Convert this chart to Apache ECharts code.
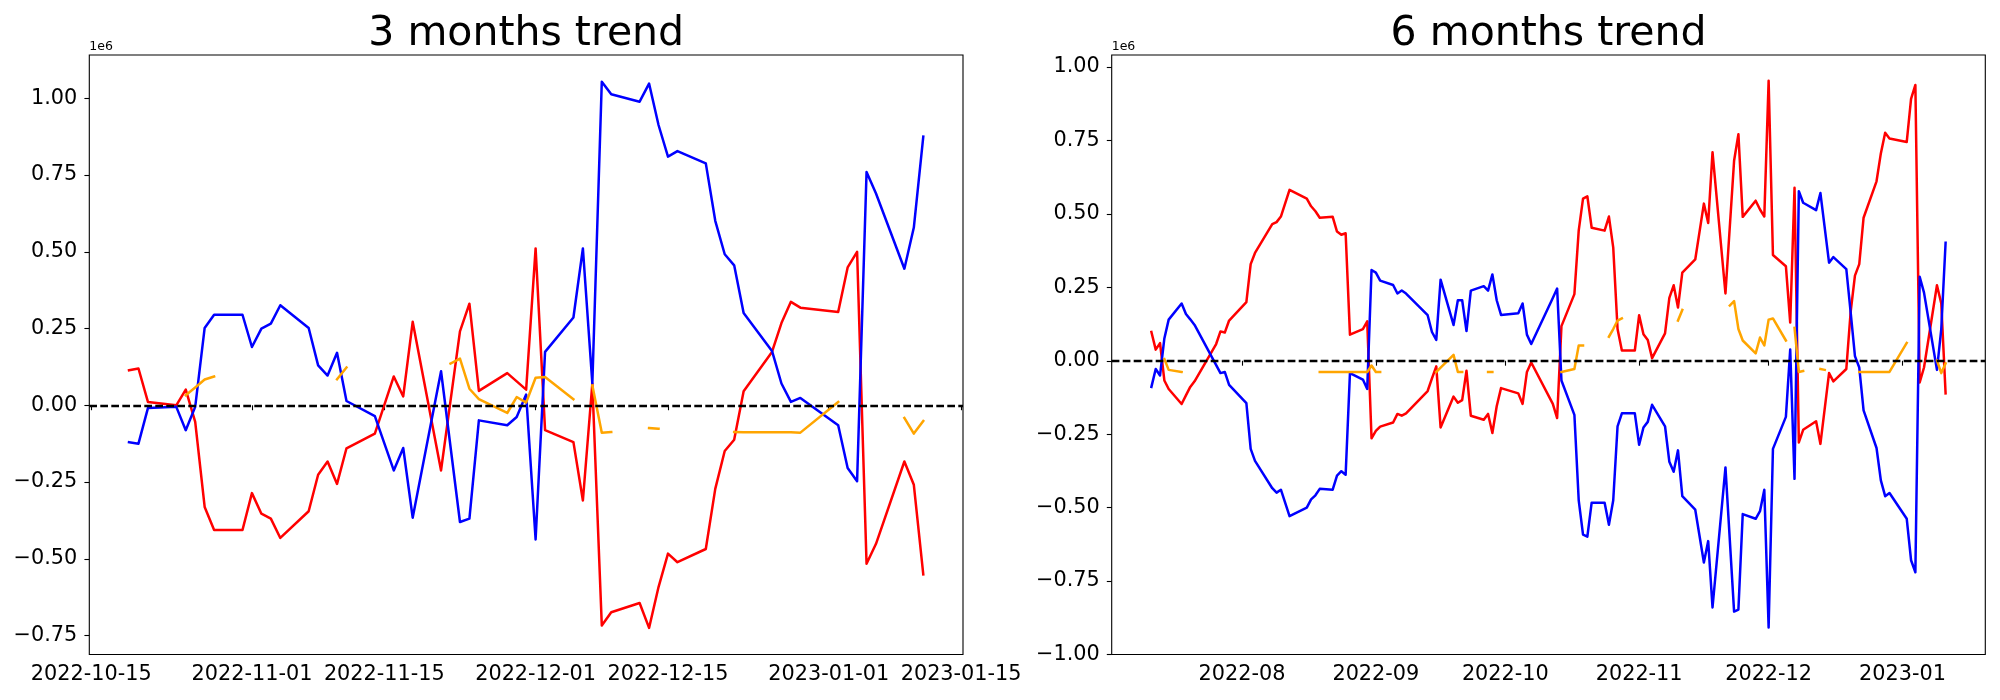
<!DOCTYPE html>
<html><head><meta charset="utf-8">
<script src="https://cdn.jsdelivr.net/npm/echarts@6/dist/echarts.min.js"></script>
<style>html,body{margin:0;padding:0;background:#fff}#c{width:2000px;height:700px}</style>
</head><body><div id="c"></div>
<script>
// ---------- 3 months trend (values in units of 1e6) ----------
const dates3 = ['2022-10-19','2022-10-20','2022-10-21','2022-10-24','2022-10-25','2022-10-26','2022-10-27','2022-10-28','2022-10-31','2022-11-01',
'2022-11-02','2022-11-03','2022-11-04','2022-11-07','2022-11-08','2022-11-09','2022-11-10','2022-11-11','2022-11-14','2022-11-16',
'2022-11-17','2022-11-18','2022-11-21','2022-11-22','2022-11-23','2022-11-24','2022-11-25','2022-11-28','2022-11-29','2022-11-30',
'2022-12-01','2022-12-02','2022-12-05','2022-12-06','2022-12-07','2022-12-08','2022-12-09','2022-12-12','2022-12-13','2022-12-14',
'2022-12-15','2022-12-16','2022-12-19','2022-12-20','2022-12-21','2022-12-22','2022-12-23','2022-12-26','2022-12-27','2022-12-28',
'2022-12-29','2023-01-02','2023-01-03','2023-01-04','2023-01-05','2023-01-06','2023-01-09','2023-01-10','2023-01-11'];
const red3 = [0.114,0.120,0.011,0.000,0.051,-0.054,-0.331,-0.406,-0.406,-0.286,
-0.353,-0.369,-0.432,-0.345,-0.226,-0.183,-0.256,-0.140,-0.092,0.094,
0.029,0.272,-0.212,null,0.241,0.331,0.047,0.105,null,0.051,
0.511,-0.081,-0.120,-0.310,0.071,-0.717,-0.674,-0.644,-0.725,-0.592,
-0.483,-0.511,-0.468,-0.272,-0.149,-0.112,0.046,0.174,0.268,0.337,
0.318,0.304,0.449,0.500,-0.516,-0.451,-0.183,-0.259,-0.551];
const blue3 = [-0.120,-0.125,-0.009,-0.005,-0.081,-0.005,0.252,0.295,0.295,0.190,
0.250,0.266,0.326,0.252,0.130,0.097,0.171,0.014,-0.035,-0.212,
-0.139,-0.366,0.111,null,-0.380,-0.369,-0.049,-0.065,-0.038,0.035,
-0.437,0.174,0.286,0.511,0.071,1.054,1.013,0.989,1.048,0.913,
0.810,0.828,0.788,0.601,0.492,0.456,0.301,0.177,0.071,0.011,
0.024,-0.065,-0.204,-0.247,0.760,0.690,0.445,0.579,0.875];
const orange3 = [null,null,null,null,0.033,0.058,0.084,0.094,null,null,
null,null,null,null,null,null,0.085,0.123,null,null,
null,null,null,0.136,0.152,0.054,0.020,-0.025,0.027,0.009,
0.090,0.092,0.020,null,0.065,-0.089,-0.087,null,-0.074,-0.076,
null,null,null,null,null,-0.087,-0.088,-0.088,-0.088,-0.088,
-0.089,0.011,null,null,null,null,-0.041,-0.092,-0.051];
const xTicks3 = ['2022-10-15','2022-11-01','2022-11-15','2022-12-01','2022-12-15','2023-01-01','2023-01-15'];
const yTicks3 = [-0.75,-0.5,-0.25,0,0.25,0.5,0.75,1.0];

// ---------- 6 months trend (values in units of 1e6) ----------
const dates6 = ['2022-07-11','2022-07-12','2022-07-13','2022-07-14','2022-07-15','2022-07-18','2022-07-19','2022-07-20','2022-07-21','2022-07-26',
'2022-07-27','2022-07-28','2022-07-29','2022-08-02','2022-08-03','2022-08-04','2022-08-08','2022-08-09','2022-08-10','2022-08-12',
'2022-08-16','2022-08-17','2022-08-18','2022-08-19','2022-08-22','2022-08-23','2022-08-24','2022-08-25','2022-08-26','2022-08-29',
'2022-08-30','2022-08-31','2022-09-01','2022-09-02','2022-09-05','2022-09-06','2022-09-07','2022-09-08','2022-09-13','2022-09-14',
'2022-09-15','2022-09-16','2022-09-19','2022-09-20','2022-09-21','2022-09-22','2022-09-23','2022-09-26','2022-09-27','2022-09-28',
'2022-09-29','2022-09-30','2022-10-04','2022-10-05','2022-10-06','2022-10-07','2022-10-12','2022-10-13','2022-10-14','2022-10-17',
'2022-10-18','2022-10-19','2022-10-20','2022-10-21','2022-10-24','2022-10-25','2022-10-26','2022-10-27','2022-10-28','2022-10-31',
'2022-11-01','2022-11-02','2022-11-03','2022-11-04','2022-11-07','2022-11-08','2022-11-09','2022-11-10','2022-11-11','2022-11-14',
'2022-11-16','2022-11-17','2022-11-18','2022-11-21','2022-11-22','2022-11-23','2022-11-24','2022-11-25','2022-11-28','2022-11-29',
'2022-11-30','2022-12-01','2022-12-02','2022-12-05','2022-12-06','2022-12-07','2022-12-08','2022-12-09','2022-12-12','2022-12-13',
'2022-12-14','2022-12-15','2022-12-16','2022-12-19','2022-12-20','2022-12-21','2022-12-22','2022-12-23','2022-12-26','2022-12-27',
'2022-12-28','2022-12-29','2023-01-02','2023-01-03','2023-01-04','2023-01-05','2023-01-06','2023-01-09','2023-01-10','2023-01-11'];
const red6 = [0.098,0.038,0.060,-0.067,-0.096,-0.147,-0.118,-0.089,-0.070,0.057,
0.100,0.096,0.137,0.200,0.329,0.367,0.465,0.472,0.491,0.582,
0.552,0.526,0.509,0.487,0.490,0.440,0.429,0.434,0.089,0.108,
0.134,-0.264,-0.239,-0.224,-0.210,-0.181,-0.187,-0.179,-0.103,-0.060,
-0.019,-0.227,-0.122,-0.143,-0.134,-0.034,-0.187,-0.201,-0.181,-0.246,
-0.155,-0.093,-0.111,-0.147,-0.038,-0.006,-0.147,-0.195,0.118,0.227,
0.443,0.552,0.560,0.453,0.443,0.491,0.385,0.108,0.035,0.035,
0.155,0.090,0.071,0.009,0.093,0.214,0.257,0.181,0.300,0.345,
0.535,0.469,0.710,0.229,null,0.681,0.771,0.490,0.545,0.515,
0.491,0.953,0.360,0.322,0.130,0.589,-0.278,-0.235,-0.206,-0.283,
null,-0.042,-0.070,-0.028,0.166,0.290,0.329,0.487,0.611,0.706,
0.776,0.757,0.745,0.892,0.939,-0.074,-0.023,0.257,0.195,-0.111];
const blue6 = [-0.089,-0.028,-0.050,0.076,0.140,0.195,0.159,0.141,0.122,null,
-0.042,-0.038,-0.082,-0.144,-0.300,-0.341,-0.434,-0.449,-0.439,-0.529,
-0.500,-0.472,-0.458,-0.436,-0.439,-0.391,-0.376,-0.388,-0.042,-0.064,
-0.096,0.309,0.300,0.273,0.258,0.229,0.239,0.229,0.155,0.098,
0.071,0.276,0.122,0.206,0.206,0.101,0.239,0.254,0.239,0.294,
0.206,0.156,0.162,0.195,0.089,0.057,0.214,0.246,-0.067,-0.184,
-0.475,-0.592,-0.599,-0.483,-0.483,-0.558,-0.475,-0.223,-0.179,-0.179,
-0.286,-0.227,-0.208,-0.150,-0.223,-0.344,-0.378,-0.305,-0.461,-0.507,
-0.687,-0.614,-0.840,-0.363,null,-0.854,-0.847,-0.522,-0.538,-0.512,
-0.439,-0.908,-0.300,-0.191,0.038,-0.402,0.577,0.538,0.513,0.571,
null,0.334,0.353,0.312,0.166,0.016,-0.023,-0.169,-0.297,-0.407,
-0.461,-0.450,-0.538,-0.679,-0.720,0.286,0.232,-0.031,0.108,0.402];
const orange6 = [null,null,null,0.006,-0.031,-0.038,null,null,null,null,
null,null,null,null,null,null,null,null,null,null,
null,null,null,-0.038,-0.038,-0.038,-0.038,-0.038,-0.038,-0.038,
-0.038,-0.016,-0.038,-0.038,null,null,null,null,null,null,
-0.038,-0.023,0.020,-0.038,-0.038,null,null,null,-0.038,-0.038,
null,null,null,null,null,null,null,null,-0.038,-0.028,
0.052,0.052,null,null,null,0.082,0.108,0.137,0.144,null,
null,null,null,null,null,null,null,0.137,0.173,null,
null,null,null,null,0.188,0.203,0.108,0.069,0.025,0.079,
0.052,0.140,0.144,0.069,null,0.112,-0.038,-0.035,null,-0.028,
-0.031,null,null,null,null,null,-0.038,-0.038,-0.038,-0.038,
-0.038,-0.038,0.061,null,null,null,null,0.001,-0.042,-0.009];
const xTicks6 = ['2022-08-01','2022-09-01','2022-10-01','2022-11-01','2022-12-01','2023-01-01'];
const yTicks6 = [-1.0,-0.75,-0.5,-0.25,0,0.25,0.5,0.75,1.0];

// ---------- helpers ----------
const DAY = 86400000;
function ts(s){const p=s.split('-').map(Number);return Date.UTC(p[0],p[1]-1,p[2]);}
function pairs(d,v){return d.map((s,i)=>[ts(s), v[i]]);}
function pad(n){return (n<10?'0':'')+n;}
function fmtDay(v){const d=new Date(v);return d.getUTCFullYear()+'-'+pad(d.getUTCMonth()+1)+'-'+pad(d.getUTCDate());}
function fmtMonth(v){const d=new Date(v);return d.getUTCFullYear()+'-'+pad(d.getUTCMonth()+1);}
function fmtY(v){const r=Math.round(v*100)/100; return (r<0?'\u2212':'')+Math.abs(r).toFixed(2);}

const FONT = 'DejaVu Sans';
const LW = 2.5;
const x3min = ts(dates3[0]) - 4.2*DAY, x3max = ts(dates3[dates3.length-1]) + 4.2*DAY;
const x6min = ts(dates6[0]) - 9.2*DAY, x6max = ts(dates6[dates6.length-1]) + 9.2*DAY;

function xAxis(gi,min,max,ticks,fmt){
  const tv = ticks.map(ts);
  return {type:'value', gridIndex:gi, min:min, max:max, scale:true,
    axisLine:{show:false},
    axisTick:{show:true, length:4.9, customValues:tv, lineStyle:{color:'#000', width:1.1}},
    axisLabel:{show:true, customValues:tv, formatter:fmt, fontSize:20.8, fontFamily:FONT, color:'#000', margin:9.5},
    splitLine:{show:false}};
}
function yAxis(gi,min,max,ticks){
  return {type:'value', gridIndex:gi, min:min, max:max,
    axisLine:{show:false},
    axisTick:{show:true, length:4.9, customValues:ticks, lineStyle:{color:'#000', width:1.1}},
    axisLabel:{show:true, customValues:ticks, formatter:fmtY, fontSize:20.8, fontFamily:FONT, color:'#000', margin:12},
    splitLine:{show:false}};
}
function lineSeries(gi,data,color,connect){
  return {type:'line', xAxisIndex:gi, yAxisIndex:gi, data:data, showSymbol:false, symbol:'none',
    connectNulls:connect, lineStyle:{color:color, width:LW, cap:'square', join:'round'}, itemStyle:{color:color},
    emphasis:{disabled:true}, animation:false};
}
function zeroLine(gi){
  return {type:'line', xAxisIndex:gi, yAxisIndex:gi, data:[], animation:false,
    markLine:{silent:true, symbol:['none','none'], label:{show:false}, animation:false,
      lineStyle:{color:'#000', width:2.3, type:[7.7,3.3]}, emphasis:{disabled:true},
      data:[{yAxis:0}]}};
}

const chart = echarts.init(document.getElementById('c'), null, {renderer:'canvas'});
chart.setOption({
  animation:false,
  backgroundColor:'#fff',
  grid:[
    {left:89.3, top:55, width:873.7, height:599.5, show:true, borderColor:'#000', borderWidth:1.1, backgroundColor:'transparent', containLabel:false},
    {left:1111.7, top:55, width:873.6, height:599.5, show:true, borderColor:'#000', borderWidth:1.1, backgroundColor:'transparent', containLabel:false}
  ],
  xAxis:[ xAxis(0,x3min,x3max,xTicks3,fmtDay), xAxis(1,x6min,x6max,xTicks6,fmtMonth) ],
  yAxis:[ yAxis(0,-0.8116,1.141,yTicks3), yAxis(1,-1.0,1.041,yTicks6) ],
  series:[
    lineSeries(0,pairs(dates3,red3),'#ff0000',true),
    lineSeries(0,pairs(dates3,blue3),'#0000ff',true),
    lineSeries(0,pairs(dates3,orange3),'#ffa500',false),
    zeroLine(0),
    lineSeries(1,pairs(dates6,red6),'#ff0000',true),
    lineSeries(1,pairs(dates6,blue6),'#0000ff',true),
    lineSeries(1,pairs(dates6,orange6),'#ffa500',false),
    zeroLine(1)
  ],
  graphic:[
    {type:'text', x:526.2, y:55, style:{text:'3 months trend', font:'41px "DejaVu Sans"', fill:'#000', textAlign:'center', textVerticalAlign:'bottom'}},
    {type:'text', x:1548.5, y:55, style:{text:'6 months trend', font:'41px "DejaVu Sans"', fill:'#000', textAlign:'center', textVerticalAlign:'bottom'}},
    {type:'text', x:89.3, y:53, style:{text:'1e6', font:'12.5px "DejaVu Sans"', fill:'#000', textAlign:'left', textVerticalAlign:'bottom'}},
    {type:'text', x:1111.7, y:53, style:{text:'1e6', font:'12.5px "DejaVu Sans"', fill:'#000', textAlign:'left', textVerticalAlign:'bottom'}}
  ]
});
</script></body></html>
